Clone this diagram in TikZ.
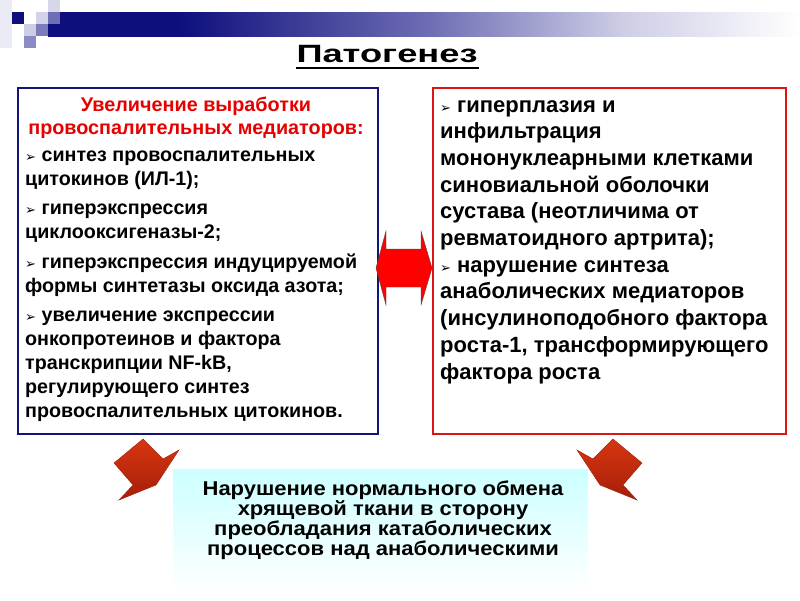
\documentclass[tikz,border=0pt]{standalone}
\usepackage{fontspec}
\setmainfont{Liberation Sans}
\newfontfamily\bulfont{DejaVu Sans}
\definecolor{barnavy}{RGB}{14,14,125}
\definecolor{barmid}{RGB}{110,110,180}
\definecolor{barlight}{RGB}{205,205,230}
\definecolor{boxnavy}{RGB}{20,20,120}
\definecolor{boxred}{RGB}{220,20,20}
\definecolor{headred}{RGB}{230,0,0}
\definecolor{arrred}{RGB}{255,0,0}
\definecolor{brickA}{RGB}{215,55,15}
\definecolor{brickB}{RGB}{165,30,10}
\definecolor{lightcyan}{RGB}{204,255,255}
\pgfdeclarehorizontalshading{barshade}{100bp}{color(0bp)=(barnavy); color(25bp)=(barnavy); color(33bp)=(barnavy); color(50bp)=(barmid); color(63bp)=(barlight); color(75bp)=(white); color(100bp)=(white)}
\newcommand\bul{{\bulfont\fontsize{13}{13}\selectfont ➢}}
\begin{document}
\begin{tikzpicture}[x=1pt,y=-1pt,
  txt/.style={inner sep=0pt, anchor=base west},
  brick/.style={draw=brickB, line width=0.4pt, top color=brickA, bottom color=brickB}]
\useasboundingbox (0,0) rectangle (800,600);
% decoration top-left
\fill[barlight!40] (0,0) rectangle (12,48);
\fill[barnavy] (12,12) rectangle (24,24);
\fill[barlight] (24,24) rectangle (36,36);
\fill[barmid!80] (24,36) rectangle (36,48);
\fill[barlight!90] (36,12) rectangle (48,24);
\fill[barmid!90] (36,24) rectangle (48,36);
\fill[barlight!80] (48,0) rectangle (60,12);
\fill[barmid] (48,12) rectangle (60,24);
\fill[shading=barshade] (48,24) rectangle (800,36);
\fill[shading=barshade] (60,12) rectangle (800,36);
% title
\node[inner sep=0pt, anchor=base] (title) at (387,62)
  {\scalebox{1.45}[1]{\fontsize{25}{25}\selectfont\bfseries Патогенез}};
\draw[line width=2pt] (296,68) -- (479,68);
% left box
\node[draw=boxnavy, line width=1.6pt, minimum width=360, minimum height=346, anchor=north west, inner sep=0pt] (lbox) at (17,87) {};
\node[inner sep=0pt, anchor=base, text=headred] (lhead) at (196,111)
  {\parbox[t]{355pt}{\centering\fontsize{19.8}{23.3}\selectfont\bfseries
  Увеличение выработки\\ провоспалительных медиаторов:}};
\node[txt] (ltext) at (25,161) {\parbox[t]{350pt}{\raggedright\fontsize{19.7}{24}\selectfont\bfseries
  \bul\ синтез провоспалительных\\ цитокинов (ИЛ-1);\\[5.5pt]
  \bul\ гиперэкспрессия\\ циклооксигеназы-2;\\[5.5pt]
  \bul\ гиперэкспрессия индуцируемой\\ формы синтетазы оксида азота;\\[5.5pt]
  \bul\ увеличение экспрессии\\ онкопротеинов и фактора\\ транскрипции NF-kB,\\ регулирующего синтез\\ провоспалительных цитокинов.}};
% right box
\node[draw=boxred, line width=1.6pt, minimum width=353, minimum height=346, anchor=north west, inner sep=0pt] (rbox) at (432,87) {};
\node[txt] (rtext) at (440,112) {\parbox[t]{345pt}{\raggedright\fontsize{22}{26.7}\selectfont\bfseries
  \bul\ гиперплазия и\\ инфильтрация\\ мононуклеарными клетками\\ синовиальной оболочки\\ сустава (неотличима от\\ ревматоидного артрита);\\
  \bul\ нарушение синтеза\\ анаболических медиаторов\\ (инсулиноподобного фактора\\ роста-1, трансформирующего\\ фактора роста}};
% double arrow
\draw[fill=arrred, draw=black!70, line width=0.4pt]
  (376,268) -- (386,231) -- (386,249) -- (421,249) -- (421,231) -- (432,268)
  -- (421,305) -- (421,287) -- (386,287) -- (386,305) -- cycle;
% diagonal arrows
\draw[brick] (143,439) -- (163,459) -- (179,450) -- (156,485) -- (119,500) -- (133,485) -- (114,463) -- cycle;
\draw[brick] (613,439) -- (593,459) -- (577,450) -- (600,485) -- (637,500) -- (623,485) -- (642,463) -- cycle;
% bottom box
\node[top color=lightcyan, bottom color=white, minimum width=415, minimum height=123, anchor=north west, inner sep=0pt] (bbox) at (173,469) {};
\node[inner sep=0pt, anchor=base] (btext) at (383,495)
  {\scalebox{1.1}[1]{\parbox[t]{380pt}{\centering\fontsize{20}{20.2}\selectfont\bfseries
  Нарушение нормального обмена\\ хрящевой ткани в сторону\\ преобладания катаболических\\ процессов над анаболическими}}};
\end{tikzpicture}
\end{document}
